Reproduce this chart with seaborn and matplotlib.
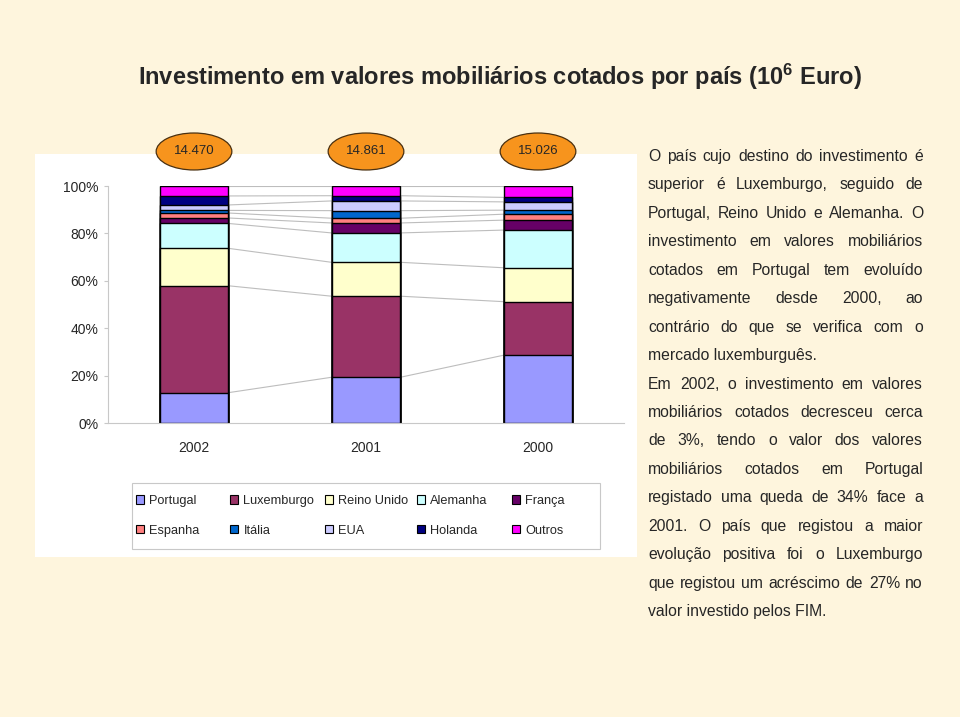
import numpy as np
import pandas as pd
import matplotlib
matplotlib.use('Agg')
import matplotlib.pyplot as plt
from matplotlib import font_manager
from matplotlib.patches import Ellipse, Rectangle, Patch
import seaborn as sns

# dados (% do total de cada ano, de baixo para cima)
anos = ['2002', '2001', '2000']
totais = ['14.470', '14.861', '15.026']
paises = ['Portugal', 'Luxemburgo', 'Reino Unido', 'Alemanha', 'França',
          'Espanha', 'Itália', 'EUA', 'Holanda', 'Outros']
portugal = [12.8, 19.3, 28.6]
luxemburgo = [45.1, 34.2, 22.6]
reino_unido = [15.8, 14.3, 14.3]
alemanha = [10.5, 12.4, 15.9]
franca = [2.3, 4.2, 4.2]
espanha = [2.1, 2.0, 2.5]
italia = [1.1, 3.2, 1.7]
eua = [2.3, 4.1, 3.5]
holanda = [3.8, 2.2, 1.9]
outros = [4.2, 4.1, 4.8]
cores = ['#9999FF', '#993366', '#FFFFCC', '#CCFFFF', '#660066',
         '#FF8080', '#0066CC', '#CCCCFF', '#000080', '#FF00FF']

texto = [
    ('O país cujo destino do investimento é', True),
    ('superior é Luxemburgo, seguido de', True),
    ('Portugal, Reino Unido e Alemanha. O', True),
    ('investimento em valores mobiliários', True),
    ('cotados em Portugal tem evoluído', True),
    ('negativamente desde 2000, ao', True),
    ('contrário do que se verifica com o', True),
    ('mercado luxemburguês.', False),
    ('Em 2002, o investimento em valores', True),
    ('mobiliários cotados decresceu cerca', True),
    ('de 3%, tendo o valor dos valores', True),
    ('mobiliários cotados em Portugal', True),
    ('registado uma queda de 34% face a', True),
    ('2001. O país que registou a maior', True),
    ('evolução positiva foi o Luxemburgo', True),
    ('que registou um acréscimo de 27% no', True),
    ('valor investido pelos FIM.', False),
]

df = pd.DataFrame([portugal, luxemburgo, reino_unido, alemanha, franca,
                   espanha, italia, eua, holanda, outros],
                  index=paises, columns=anos)
df = df / df.sum() * 100
cum = df.cumsum()

sns.set_style('white')
nomes = {f.name for f in font_manager.fontManager.ttflist}
if 'Liberation Sans Narrow' in nomes:
    fam, k = 'Liberation Sans Narrow', 1.15
else:
    fam, k = 'Liberation Sans', 1.0
plt.rcParams['font.family'] = [fam, 'DejaVu Sans']
plt.rcParams['mathtext.default'] = 'regular'

W, H = 960, 717
fig = plt.figure(figsize=(9.6, 7.17), dpi=100, facecolor='#FEF5DD')
fx = lambda x: x / W
fy = lambda y: 1 - y / H

# caixa branca do gráfico
fig.patches.append(Rectangle((fx(35), fy(557)), fx(637) - fx(35), fy(154) - fy(557),
                             transform=fig.transFigure, facecolor='white',
                             edgecolor='none', zorder=-2))

ax = fig.add_axes([fx(108), fy(423), fx(624) - fx(108), fy(186) - fy(423)])
ax.set_facecolor('none')
ax.set_zorder(2)

for i in reversed(range(len(paises))):
    sns.barplot(x=anos, y=cum.iloc[i].values, order=anos, color=cores[i],
                saturation=1, width=0.4, edgecolor='black', linewidth=1,
                errorbar=None, ax=ax)

# linhas de série
for i in range(len(paises)):
    for j in range(len(anos) - 1):
        ax.plot([j + 0.2, j + 0.8], [cum.iloc[i, j], cum.iloc[i, j + 1]],
                color='#BDBDBD', lw=0.8, zorder=0.5)

ax.set_xlim(-0.5, 2.5)
ax.set_ylim(0, 100)
ax.set_yticks(range(0, 101, 20))
ax.set_yticklabels([f'{v}%' for v in range(0, 101, 20)])
ax.set_xticks([0.5, 1.5], minor=True)
ax.set_xlabel('')
ax.set_ylabel('')
for s in ['top', 'right']:
    ax.spines[s].set_visible(False)
for s in ['left', 'bottom']:
    ax.spines[s].set_color('#C8C8C8')
    ax.spines[s].set_linewidth(0.8)
ax.tick_params(axis='x', which='major', length=0, pad=13, labelsize=10 * k)
ax.tick_params(axis='x', which='minor', length=4, color='#C8C8C8', width=0.8)
ax.tick_params(axis='y', length=3, color='#C8C8C8', width=0.8, pad=4,
               labelsize=10 * k, left=True)

# totais em elipses
for j, t in enumerate(totais):
    ax.add_patch(Ellipse((j, 1.1456), 0.44, 0.156, transform=ax.get_xaxis_transform(),
                         facecolor='#F7941D', edgecolor='#4A3010', lw=0.9,
                         clip_on=False, zorder=5))
    ax.text(j, 1.1456, t, transform=ax.get_xaxis_transform(), ha='center',
            va='center', fontsize=9.5 * k, zorder=6)

# legenda (colunas de largura igual, como no Excel)
fig.patches.append(Rectangle((fx(132), fy(549)), fx(600) - fx(132), fy(483) - fy(549),
                             transform=fig.transFigure, facecolor='white',
                             edgecolor='#C8C8C8', lw=0.8, zorder=1))
col_x = [136, 230, 325, 417, 512]
for c in range(5):
    hs = [Patch(facecolor=cores[c + r * 5], edgecolor='black', lw=0.8) for r in range(2)]
    lb = [paises[c + r * 5] for r in range(2)]
    leg = fig.legend(hs, lb, loc='center left', bbox_to_anchor=(fx(col_x[c]), fy(516)),
                     frameon=False, fontsize=9.2 * k, handlelength=0.6,
                     handleheight=0.6, handletextpad=0.45, labelspacing=1.4,
                     borderpad=0, borderaxespad=0)
    leg.set_zorder(3)

# título
fig.text(fx(500), fy(77), 'Investimento em valores mobiliários cotados por país (10$^6$ Euro)',
         ha='center', va='center', fontsize=17 * k, weight='bold')

# texto justificado à direita
r = fig.canvas.get_renderer()
x0, x1 = 648, 923
for n, (linha, just) in enumerate(texto):
    y = 161 + n * 28.44
    if not just:
        fig.text(fx(x0), fy(y), linha, ha='left', va='baseline', fontsize=11.3 * k)
        continue
    pal = linha.split()
    objs = [fig.text(0, fy(y), p, ha='left', va='baseline', fontsize=11.3 * k) for p in pal]
    larg = [o.get_window_extent(r).width for o in objs]
    gap = (x1 - x0 - sum(larg)) / (len(pal) - 1)
    x = x0
    for o, w in zip(objs, larg):
        o.set_x(fx(x))
        x += w + gap

fig.savefig('out.png', dpi=100, facecolor=fig.get_facecolor())
